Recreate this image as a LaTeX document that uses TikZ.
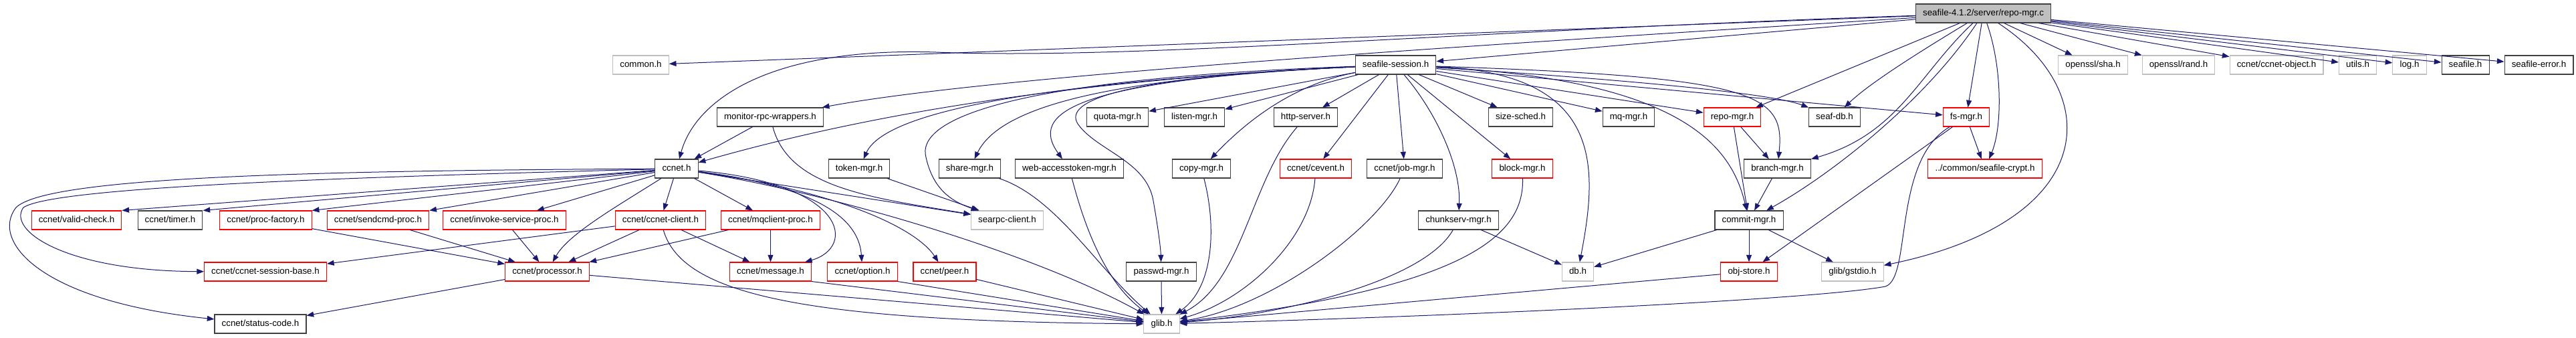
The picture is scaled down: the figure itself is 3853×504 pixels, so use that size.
\documentclass[tikz,border=0pt]{standalone}
\usepackage{fontspec}
\setmainfont{Liberation Sans}[Ligatures=NoCommon]
\usetikzlibrary{arrows.meta}
\definecolor{edgeBlue}{HTML}{191970}
\definecolor{docBlack}{HTML}{404040}
\definecolor{undocRed}{HTML}{FF0000}
\definecolor{extGray}{HTML}{BFBFBF}
\definecolor{rootGray}{HTML}{BFBFBF}

\begin{document}
\begin{tikzpicture}[
        x=0.75pt, y=-0.75pt,
        hdr/.style={
                rectangle,
                fill=white,
                line width=0.8pt,
                minimum height=21pt,
                inner xsep=8pt,
                inner ysep=0pt,
                text height=7.4pt,
                text depth=2.1pt,
                font=\fontsize{10}{12}\selectfont
            },
        docbox/.style={hdr, draw=docBlack},
        redbox/.style={hdr, draw=undocRed},
        extbox/.style={hdr, draw=extGray},
        rootbox/.style={hdr, draw=docBlack, fill=rootGray},
        arrow/.style={-{Triangle[length=8pt,width=6pt]}, draw=edgeBlue, line width=0.75pt}
    ]
    \path[use as bounding box, fill=white] (0,0) rectangle (3853,504);

    \node[rootbox] (rmc) at (2966.5,20) {seafile-4.1.2/server/repo-mgr.c};

    \node[extbox] (common) at (958.5,97) {common.h};
    \node[docbox] (ssn) at (2087.5,97) {seafile-session.h};
    \node[extbox] (sha) at (3130.5,97) {openssl/sha.h};
    \node[extbox] (rand) at (3258.5,97) {openssl/rand.h};
    \node[extbox] (ccobj) at (3405,97) {ccnet/ccnet-object.h};
    \node[extbox] (utils) at (3526.5,97) {utils.h};
    \node[extbox] (logh) at (3604,97) {log.h};
    \node[docbox] (seafileh) at (3687.5,97) {seafile.h};
    \node[docbox] (seaferr) at (3797.5,97) {seafile-error.h};

    \node[docbox] (monitor) at (1152,175) {monitor-rpc-wrappers.h};
    \node[docbox] (quota) at (1671.5,175) {quota-mgr.h};
    \node[docbox] (listen) at (1786.5,175) {listen-mgr.h};
    \node[docbox] (httpsrv) at (1953,175) {http-server.h};
    \node[docbox] (sizesched) at (2274.5,175) {size-sched.h};
    \node[docbox] (mqmgr) at (2436,175) {mq-mgr.h};
    \node[redbox] (repomgr) at (2591,175) {repo-mgr.h};
    \node[docbox] (seafdb) at (2744,175) {seaf-db.h};
    \node[redbox] (fsmgr) at (2941,175) {fs-mgr.h};

    \node[docbox] (ccneth) at (1012,252) {ccnet.h};
    \node[docbox] (token) at (1285,252) {token-mgr.h};
    \node[docbox] (share) at (1450.5,252) {share-mgr.h};
    \node[docbox] (webtok) at (1599.5,252) {web-accesstoken-mgr.h};
    \node[docbox] (copymgr) at (1797,252) {copy-mgr.h};
    \node[redbox] (cevent) at (1968,252) {ccnet/cevent.h};
    \node[docbox] (jobmgr) at (2101,252) {ccnet/job-mgr.h};
    \node[redbox] (blockmgr) at (2277,252) {block-mgr.h};
    \node[docbox] (branchmgr) at (2658.5,252) {branch-mgr.h};
    \node[redbox] (crypt) at (2969,252) {../common/seafile-crypt.h};

    \node[redbox] (validchk) at (114.5,329) {ccnet/valid-check.h};
    \node[docbox] (timer) at (254.5,329) {ccnet/timer.h};
    \node[redbox] (procfac) at (397.5,329) {ccnet/proc-factory.h};
    \node[redbox] (sendcmd) at (565.5,329) {ccnet/sendcmd-proc.h};
    \node[redbox] (invoke) at (754.5,329) {ccnet/invoke-service-proc.h};
    \node[redbox] (client) at (988,329) {ccnet/ccnet-client.h};
    \node[redbox] (mqclient) at (1152.5,329) {ccnet/mqclient-proc.h};
    \node[extbox] (searpc) at (1506.5,329) {searpc-client.h};
    \node[docbox] (chunksrv) at (2181.5,329) {chunkserv-mgr.h};
    \node[docbox] (commitmgr) at (2616,329) {commit-mgr.h};

    \node[redbox] (sessbase) at (397,406) {ccnet/ccnet-session-base.h};
    \node[redbox] (processor) at (818.5,406) {ccnet/processor.h};
    \node[redbox] (message) at (1152.5,406) {ccnet/message.h};
    \node[redbox] (option) at (1290,406) {ccnet/option.h};
    \node[redbox] (peer) at (1413,406) {ccnet/peer.h};
    \node[docbox] (passwd) at (1737,406) {passwd-mgr.h};
    \node[extbox] (dbh) at (2360,406) {db.h};
    \node[redbox] (objstore) at (2616,406) {obj-store.h};
    \node[extbox] (gstdio) at (2771,406) {glib/gstdio.h};

    \node[docbox] (status) at (389.5,484) {ccnet/status-code.h};
    \node[extbox] (glibh) at (1737.5,484) {glib.h};

    \draw[arrow] (rmc) -- (common);
    \draw[arrow] (rmc) .. controls (2200,45) and (1700,90) .. (1400,78) .. controls (1150,70) and (1040,150) .. (ccneth);
    \draw[arrow] (rmc) .. controls (2300,62) and (1500,110) .. (monitor);
    \draw[arrow] (rmc) -- (ssn);
    \draw[arrow] (rmc) -- (repomgr);
    \draw[arrow] (rmc) .. controls (2850,90) and (2790,130) .. (seafdb);
    \draw[arrow] (rmc) .. controls (2870,110) and (2840,200) .. (branchmgr);
    \draw[arrow] (rmc) .. controls (2880,150) and (2740,260) .. (commitmgr);
    \draw[arrow] (rmc) -- (fsmgr);
    \draw[arrow] (rmc) .. controls (2995,100) and (2995,190) .. (crypt);
    \draw[arrow] (rmc) .. controls (3150,140) and (3140,330) .. (gstdio);
    \draw[arrow] (rmc) -- (sha);
    \draw[arrow] (rmc) -- (rand);
    \draw[arrow] (rmc) -- (ccobj);
    \draw[arrow] (rmc) -- (utils);
    \draw[arrow] (rmc) -- (logh);
    \draw[arrow] (rmc) -- (seafileh);
    \draw[arrow] (rmc) -- (seaferr);

    \draw[arrow] (ssn) .. controls (1600,120) and (1300,170) .. (ccneth);
    \draw[arrow] (ssn) .. controls (1500,125) and (1320,175) .. (token);
    \draw[arrow] (ssn) .. controls (1500,118) and (1370,180) .. (1385,235) .. controls (1395,280) and (1420,300) .. (searpc);
    \draw[arrow] (ssn) .. controls (1700,115) and (1500,150) .. (share);
    \draw[arrow] (ssn) .. controls (1600,120) and (1540,170) .. (webtok);
    \draw[arrow] (ssn) .. controls (1680,115) and (1590,150) .. (1612,185) .. controls (1640,225) and (1715,240) .. (1725,300) .. controls (1732,340) and (1736,370) .. (passwd);
    \draw[arrow] (ssn) -- (quota);
    \draw[arrow] (ssn) -- (listen);
    \draw[arrow] (ssn) .. controls (1940,125) and (1870,175) .. (copymgr);
    \draw[arrow] (ssn) -- (httpsrv);
    \draw[arrow] (ssn) -- (cevent);
    \draw[arrow] (ssn) -- (jobmgr);
    \draw[arrow] (ssn) .. controls (2150,170) and (2185,250) .. (chunksrv);
    \draw[arrow] (ssn) -- (blockmgr);
    \draw[arrow] (ssn) -- (sizesched);
    \draw[arrow] (ssn) .. controls (2400,110) and (2390,250) .. (dbh);
    \draw[arrow] (ssn) -- (mqmgr);
    \draw[arrow] (ssn) -- (repomgr);
    \draw[arrow] (ssn) .. controls (2520,120) and (2590,220) .. (commitmgr);
    \draw[arrow] (ssn) .. controls (2630,115) and (2670,140) .. (branchmgr);
    \draw[arrow] (ssn) .. controls (2450,120) and (2650,140) .. (seafdb);
    \draw[arrow] (ssn) -- (fsmgr);

    \draw[arrow] (monitor) -- (ccneth);
    \draw[arrow] (monitor) .. controls (1180,280) and (1300,295) .. (searpc);
    \draw[arrow] (token) -- (searpc);

    \draw[arrow] (ccneth) .. controls (450,255) and (70,265) .. (24,310) .. controls (-15,360) and (60,450) .. (status);
    \draw[arrow] (ccneth) .. controls (500,265) and (80,280) .. (35,310) .. controls (10,345) and (100,405) .. (sessbase);
    \draw[arrow] (ccneth) -- (validchk.north east);
    \draw[arrow] (ccneth) -- (timer.north east);
    \draw[arrow] (ccneth) -- (procfac.north east);
    \draw[arrow] (ccneth) -- (sendcmd.north east);
    \draw[arrow] (ccneth) -- (invoke);
    \draw[arrow] (ccneth) .. controls (920,310) and (850,350) .. (processor);
    \draw[arrow] (ccneth) -- (client);
    \draw[arrow] (ccneth) -- (mqclient);
    \draw[arrow] (ccneth) .. controls (1270,275) and (1280,370) .. (message);
    \draw[arrow] (ccneth) .. controls (1230,280) and (1285,330) .. (option);
    \draw[arrow] (ccneth) .. controls (1250,285) and (1370,340) .. (peer);
    \draw[arrow] (ccneth) -- (searpc);
    \draw[arrow] (ccneth) .. controls (1250,290) and (1550,380) .. (glibh);

    \draw[arrow] (client) -- (sessbase);
    \draw[arrow] (client) -- (processor);
    \draw[arrow] (client) -- (message);
    \draw[arrow] (client) .. controls (1020,440) and (1200,480) .. (glibh);
    \draw[arrow] (mqclient) -- (processor);
    \draw[arrow] (mqclient) -- (message);
    \draw[arrow] (invoke) -- (processor);
    \draw[arrow] (sendcmd) -- (processor);
    \draw[arrow] (procfac) -- (processor);
    \draw[arrow] (processor) -- (status);
    \draw[arrow] (processor) -- (glibh);
    \draw[arrow] (message.south east) -- (glibh);
    \draw[arrow] (option.south east) -- (glibh);
    \draw[arrow] (peer) -- (glibh);

    \draw[arrow] (passwd) -- (glibh);
    \draw[arrow] (share) .. controls (1580,295) and (1640,400) .. (glibh);
    \draw[arrow] (webtok) .. controls (1620,330) and (1650,420) .. (glibh);
    \draw[arrow] (copymgr) .. controls (1820,340) and (1815,430) .. (glibh);
    \draw[arrow] (httpsrv) .. controls (1870,270) and (1860,420) .. (glibh);
    \draw[arrow] (cevent) .. controls (1960,360) and (1860,450) .. (glibh);
    \draw[arrow] (jobmgr) .. controls (2060,340) and (1900,460) .. (glibh);
    \draw[arrow] (chunksrv) .. controls (2130,420) and (1920,470) .. (glibh);
    \draw[arrow] (chunksrv) -- (dbh);
    \draw[arrow] (blockmgr) .. controls (2280,350) and (2200,430) .. (glibh);
    \draw[arrow] (objstore) -- (glibh);
    \draw[arrow] (fsmgr) .. controls (2830,240) and (2860,415) .. (2820,428) .. controls (2700,450) and (2100,475) .. (glibh);
    \draw[arrow] (fsmgr) -- (objstore);
    \draw[arrow] (fsmgr) -- (crypt);

    \draw[arrow] (repomgr) -- (branchmgr);
    \draw[arrow] (repomgr) -- (commitmgr);
    \draw[arrow] (branchmgr) -- (commitmgr);
    \draw[arrow] (commitmgr) -- (dbh);
    \draw[arrow] (commitmgr) -- (objstore);
    \draw[arrow] (commitmgr) -- (gstdio);
\end{tikzpicture}
\end{document}
